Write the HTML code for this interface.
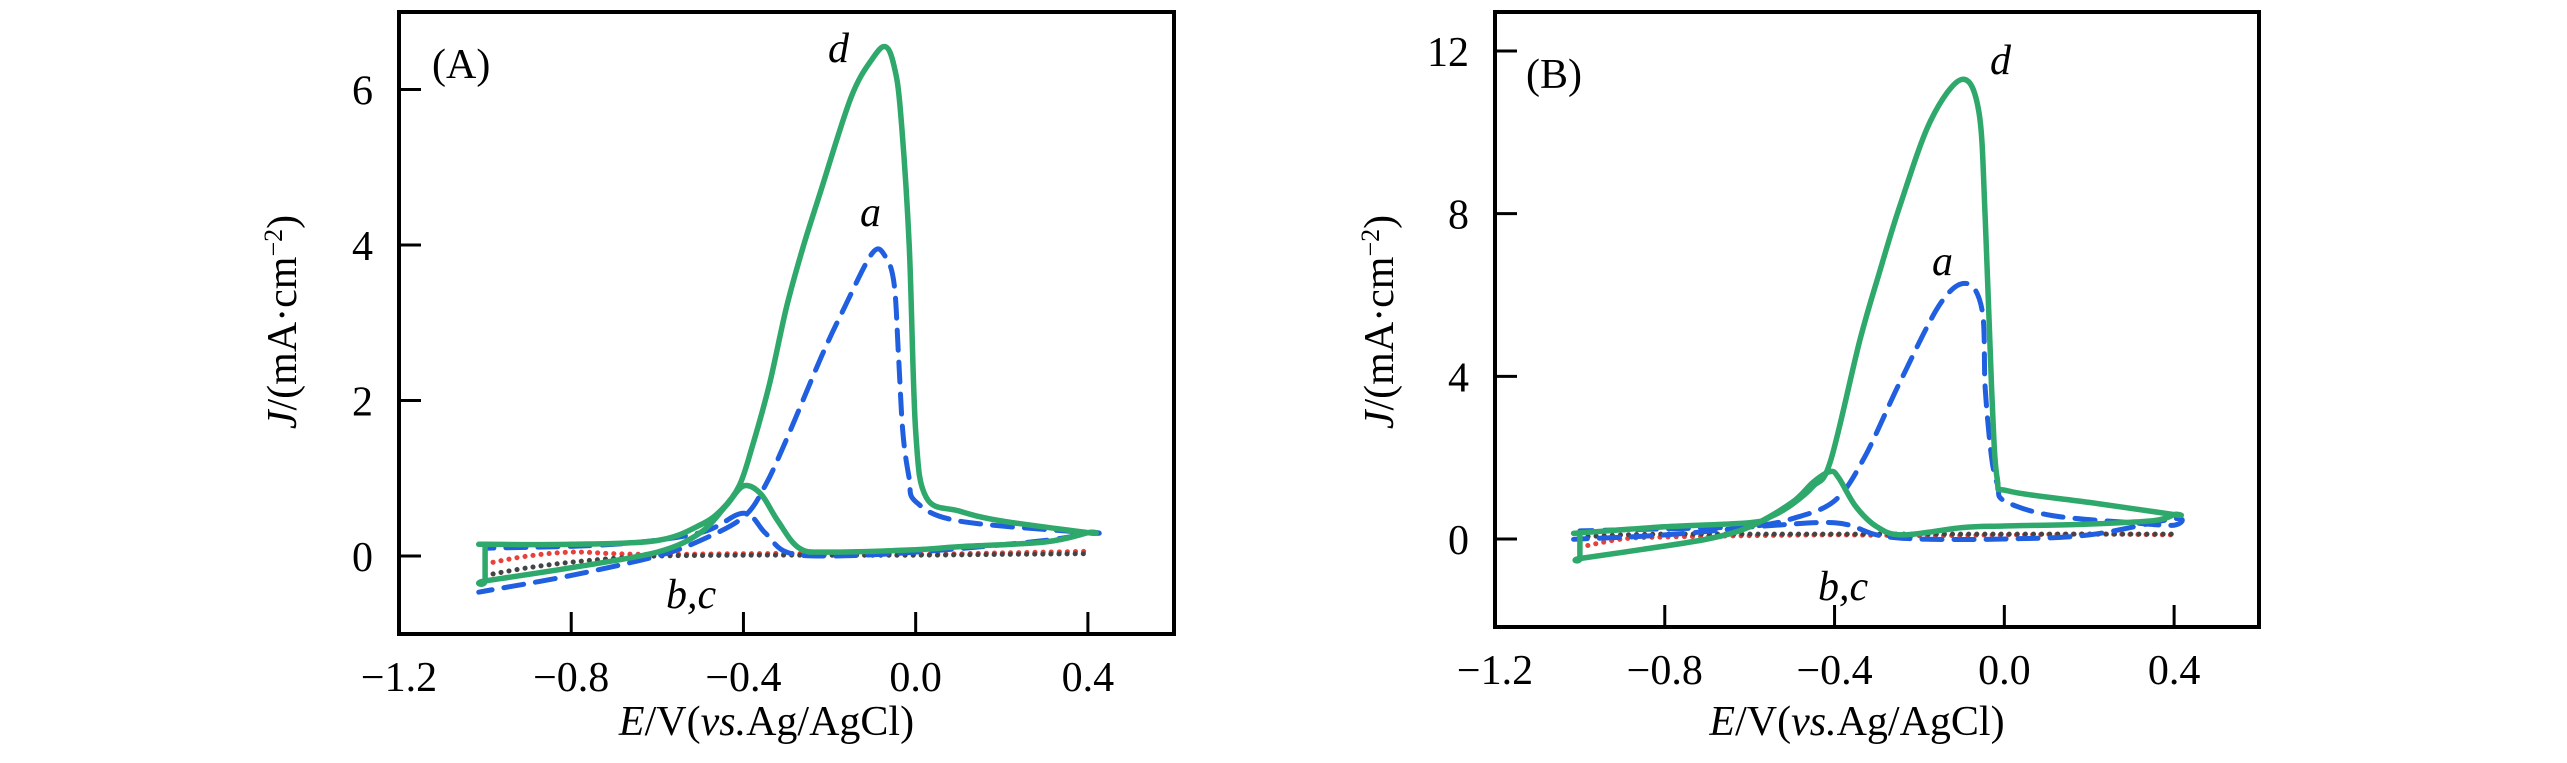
<!DOCTYPE html>
<html><head><meta charset="utf-8">
<style>
html,body{margin:0;padding:0;background:#fff;}
svg{display:block;font-family:"Liberation Serif",serif;}
</style></head>
<body>
<svg id="chart" width="2567" height="763" viewBox="0 0 2567 763" xmlns="http://www.w3.org/2000/svg">
</svg>
<script>
// ---------- Panel A data ----------
const aXTicks = [-1.2, -0.8, -0.4, 0.0, 0.4];
const aXTickLabels = ["\u22121.2", "\u22120.8", "\u22120.4", "0.0", "0.4"];
const aYTicks = [0, 2, 4, 6];
const aYTickLabels = ["0", "2", "4", "6"];
const aDE = [-1.0,-1.0,-0.8,-0.6,-0.5,-0.45,-0.41,-0.38,-0.34,-0.30,-0.26,-0.22,-0.15,-0.1,-0.07,-0.05,-0.035,-0.015,0.0,0.025,0.1,0.2,0.4,0.4,0.3,0.1,0.0,-0.2,-0.27,-0.32,-0.36,-0.4,-0.44,-0.5,-0.6,-0.8,-1.0,-1.0,-1.0];
const aDJ = [0.15,0.15,0.15,0.2,0.4,0.6,0.9,1.4,2.2,3.2,4.0,4.7,5.9,6.4,6.55,6.3,5.7,4.0,1.6,0.75,0.58,0.45,0.3,0.3,0.18,0.12,0.08,0.05,0.1,0.45,0.8,0.9,0.65,0.3,0.05,-0.15,-0.32,-0.32,0.15];
const aAE = [-1.0,-1.0,-0.8,-0.6,-0.5,-0.4,-0.35,-0.3,-0.22,-0.165,-0.1,-0.07,-0.05,-0.04,-0.03,-0.015,0.0,0.1,0.4,0.4,0.3,0.0,-0.2,-0.3,-0.35,-0.4,-0.5,-0.7,-1.0];
const aAJ = [-0.45,-0.45,-0.25,0.0,0.2,0.5,0.9,1.5,2.55,3.2,3.9,3.85,3.5,2.6,1.6,1.0,0.7,0.45,0.3,0.3,0.2,0.05,0.0,0.05,0.3,0.55,0.3,0.15,0.1];
const aBE = [-1.0,-0.9,-0.8,-0.7,-0.6,-0.4,-0.2,0.0,0.2,0.4];
const aBJ = [-0.25,-0.15,-0.08,-0.03,0.0,0.01,0.01,0.01,0.02,0.03];
const aCE = [-1.0,-0.9,-0.8,-0.7,-0.6,-0.4,-0.2,0.0,0.2,0.4];
const aCJ = [-0.1,0.0,0.05,0.03,0.02,0.03,0.03,0.02,0.04,0.06];
// ---------- Panel B data ----------
const bXTicks = [-1.2, -0.8, -0.4, 0.0, 0.4];
const bXTickLabels = ["\u22121.2", "\u22120.8", "\u22120.4", "0.0", "0.4"];
const bYTicks = [0, 4, 8, 12];
const bYTickLabels = ["0", "4", "8", "12"];
const bDE = [-1.0,-1.0,-0.8,-0.6,-0.55,-0.5,-0.45,-0.41,-0.34,-0.29,-0.244,-0.173,-0.1,-0.06,-0.045,-0.03,-0.017,0.01,0.2,0.4,0.4,0.35,0.18,0.0,-0.1,-0.24,-0.3,-0.35,-0.39,-0.41,-0.45,-0.5,-0.6,-0.7,-0.85,-1.0,-1.0,-1.0];
const bDJ = [0.15,0.15,0.3,0.4,0.55,0.85,1.3,1.9,4.9,6.7,8.26,10.3,11.3,10.5,7.9,3.7,1.5,1.18,0.9,0.6,0.6,0.45,0.36,0.32,0.28,0.1,0.3,0.8,1.5,1.66,1.4,0.9,0.3,0.0,-0.25,-0.48,-0.48,0.15];
const bAE = [-1.0,-1.0,-0.8,-0.6,-0.5,-0.4,-0.33,-0.244,-0.15,-0.088,-0.052,-0.045,-0.03,-0.015,0.0,0.11,0.3,0.4,0.4,0.2,0.0,-0.2,-0.3,-0.4,-0.6,-0.8,-1.0];
const bAJ = [0.0,0.0,0.1,0.3,0.5,0.94,2.0,3.9,5.8,6.28,5.6,3.7,2.0,1.3,0.94,0.58,0.4,0.34,0.5,0.1,0.0,0.0,0.1,0.4,0.3,0.25,0.2];
const bBE = [-1.0,-0.9,-0.8,-0.6,-0.4,-0.2,0.0,0.2,0.4];
const bBJ = [0.05,0.1,0.12,0.12,0.12,0.12,0.12,0.12,0.12];
const bCE = [-1.0,-0.9,-0.8,-0.6,-0.4,-0.2,0.0,0.2,0.4];
const bCJ = [-0.2,0.0,0.05,0.08,0.1,0.08,0.1,0.12,0.1];

const NS = "http://www.w3.org/2000/svg";
const svg = document.getElementById("chart");
function mk(tag, attrs, parent){ const e=document.createElementNS(NS,tag); for(const k in attrs) e.setAttribute(k,attrs[k]); (parent||svg).appendChild(e); return e; }

function smoothPath(pts){
  let d = "M"+pts[0][0].toFixed(1)+","+pts[0][1].toFixed(1);
  for(let i=0;i<pts.length-1;i++){
    const p0=pts[i-1]||pts[i], p1=pts[i], p2=pts[i+1], p3=pts[i+2]||p2;
    const c1=[p1[0]+(p2[0]-p0[0])/6, p1[1]+(p2[1]-p0[1])/6];
    const c2=[p2[0]-(p3[0]-p1[0])/6, p2[1]-(p3[1]-p1[1])/6];
    d += " C"+c1[0].toFixed(1)+","+c1[1].toFixed(1)+" "+c2[0].toFixed(1)+","+c2[1].toFixed(1)+" "+p2[0].toFixed(1)+","+p2[1].toFixed(1);
  }
  return d;
}

function panel(cfg){
  const g = mk("g",{});
  
  
  const sx = v => cfg.x0 + (v - cfg.xmin)/(cfg.xmax-cfg.xmin)*(cfg.x1-cfg.x0);
  const sy = v => cfg.yZero - v*cfg.yUnit;
  const series = [
    {E:cfg.cE, J:cfg.cJ, color:"#e8403a", w:5, dash:"0.1 8", name:"curve-c"},
    {E:cfg.bE, J:cfg.bJ, color:"#444444", w:5, dash:"0.1 8", name:"curve-b"},
    {E:cfg.aE, J:cfg.aJ, color:"#1f5fe0", w:5, dash:"20 12", name:"curve-a"},
    {E:cfg.dE, J:cfg.dJ, color:"#2fa86b", w:5.5, dash:"", name:"curve-d"}
  ];
  series.forEach(s=>{
    const pts = s.E.map((e,i)=>[sx(e), sy(s.J[i])]);
    const p = mk("path",{d:smoothPath(pts), fill:"none", stroke:s.color, "stroke-width":s.w, "stroke-linecap":"round", "stroke-linejoin":"round"}, g);
    if(s.dash) p.setAttribute("stroke-dasharray", s.dash);
    
    
  });
  const fr = mk("rect",{x:cfg.x0, y:cfg.y0, width:cfg.x1-cfg.x0, height:cfg.y1-cfg.y0, fill:"none", stroke:"#000", "stroke-width":4}, g);
  
  
  cfg.xTicks.forEach((t,i)=>{
    const x = sx(t);
    if(i>0){
      const l = mk("line",{x1:x,y1:cfg.y1,x2:x,y2:cfg.y1-22,stroke:"#000","stroke-width":3}, g);
      
      
    }
    const tx = mk("text",{x:x, y:cfg.y1+57, "font-size":42, "text-anchor":"middle", fill:"#000"}, g);
    tx.textContent = cfg.xTickLabels[i];
    
    
  });
  cfg.yTicks.forEach((t,i)=>{
    const y = sy(t);
    const l = mk("line",{x1:cfg.x0,y1:y,x2:cfg.x0+22,y2:y,stroke:"#000","stroke-width":3}, g);
    
    
    const tx = mk("text",{x:cfg.x0-26, y:y+15, "font-size":42, "text-anchor":"end", fill:"#000"}, g);
    tx.textContent = cfg.yTickLabels[i];
    
    
  });
  const xt = mk("text",{x:(cfg.x0+cfg.x1)/2-20, y:735, "font-size":42, "text-anchor":"middle", fill:"#000"}, g);
  xt.innerHTML = '<tspan font-style="italic">E</tspan>/V(<tspan font-style="italic">vs.</tspan>Ag/AgCl)';
  
  
  const yt = mk("text",{x:0, y:0, "font-size":42, "text-anchor":"middle", fill:"#000", transform:"translate("+cfg.yTitleX+",322) rotate(-90)"}, g);
  yt.innerHTML = '<tspan font-style="italic">J</tspan>/(mA·cm<tspan baseline-shift="super" font-size="26">−2</tspan>)';
  
  
  cfg.notes.forEach(n=>{
    const t = mk("text",{x:n.x, y:n.y, "font-size":n.s||42, fill:"#000"}, g);
    if(n.it) t.setAttribute("font-style","italic");
    t.textContent = n.t;
    
    
  });
}

panel({id:"panel-a", x0:399, x1:1174, y0:12, y1:634, xmin:-1.2, xmax:0.6, yZero:556, yUnit:77.75,
  xTicks:aXTicks, xTickLabels:aXTickLabels, yTicks:aYTicks, yTickLabels:aYTickLabels,
  dE:aDE, dJ:aDJ, aE:aAE, aJ:aAJ, bE:aBE, bJ:aBJ, cE:aCE, cJ:aCJ, yTitleX:296,
  notes:[{x:432,y:78,t:"(A)",name:"panel-a-label"},{x:828,y:62,t:"d",it:1,name:"label-d"},{x:860,y:226,t:"a",it:1,name:"label-a"},{x:666,y:608,t:"b,c",it:1,name:"label-bc"}]});
panel({id:"panel-b", x0:1495, x1:2259, y0:12, y1:627, xmin:-1.2, xmax:0.6, yZero:539, yUnit:40.67,
  xTicks:bXTicks, xTickLabels:bXTickLabels, yTicks:bYTicks, yTickLabels:bYTickLabels,
  dE:bDE, dJ:bDJ, aE:bAE, aJ:bAJ, bE:bBE, bJ:bBJ, cE:bCE, cJ:bCJ, yTitleX:1393,
  notes:[{x:1526,y:88,t:"(B)",name:"panel-b-label"},{x:1990,y:74,t:"d",it:1,name:"label-d"},{x:1932,y:275,t:"a",it:1,name:"label-a"},{x:1818,y:600,t:"b,c",it:1,name:"label-bc"}]});
</script>
</body></html>
